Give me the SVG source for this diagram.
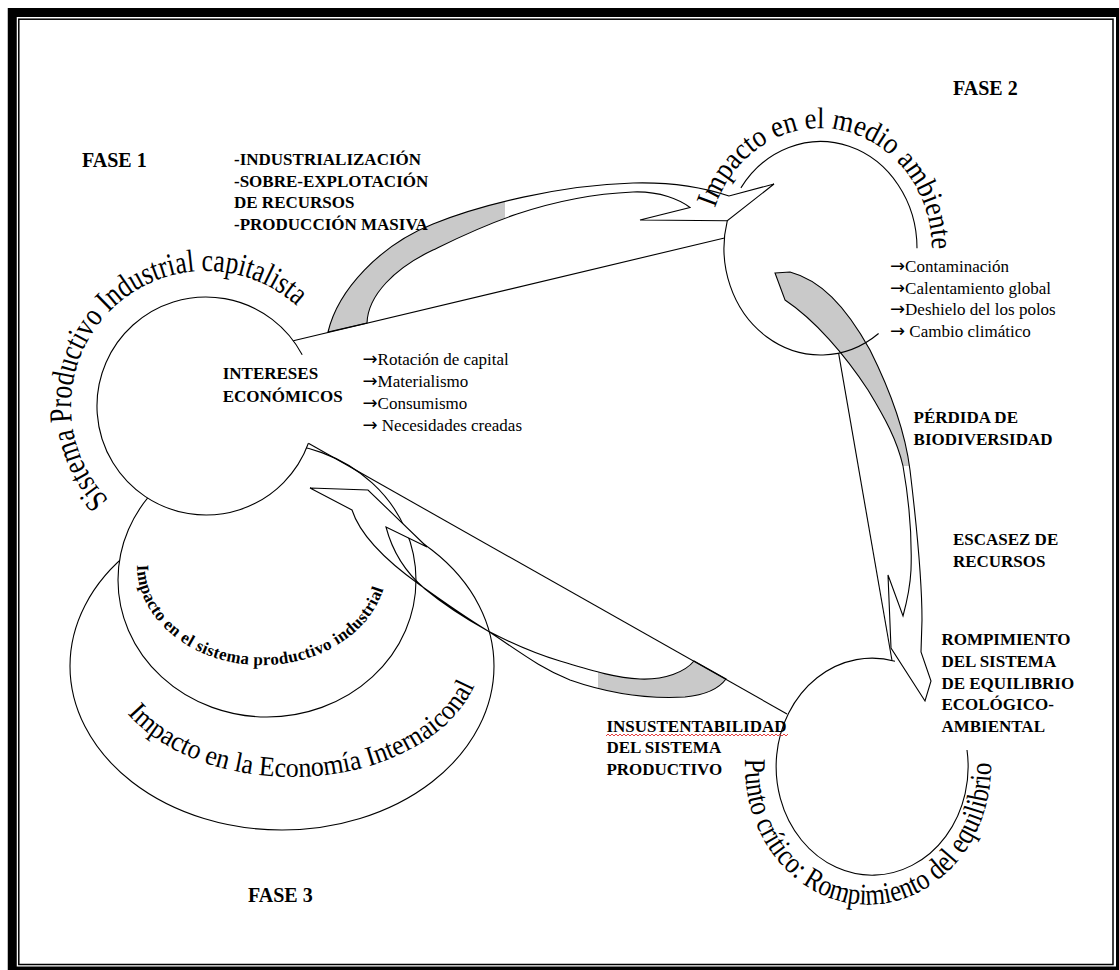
<svg xmlns="http://www.w3.org/2000/svg" width="1119" height="970" viewBox="0 0 1119 970">
  <defs>
    <style>
      .ln{fill:none;stroke:#000;stroke-width:1.1;stroke-linejoin:miter}
      .wf{fill:#fff;stroke:#000;stroke-width:1.1}
      .fillw{fill:#fff;stroke:none}
      .gray{fill:#c9c9c9;stroke:none}
      .t{font-family:'Liberation Serif','Times New Roman',serif;fill:#000}
      .b17{font-weight:bold;font-size:17px}
      .r17{font-size:17px}
      .fase{font-weight:bold;font-size:20px}
      .wa32{font-size:32px}
      .wa30{font-size:30px}
      .wa28{font-size:28px}
      .wab{font-weight:bold;font-size:17px}
      .arw{font-family:'DejaVu Sans',sans-serif;font-size:18px}
    </style>
    <!-- baselines for the arched titles -->
    <path id="arc-sistema" d="M108.9,499.8 A135,135 0 0 1 298.1,307.3"/>
    <path id="arc-medio" d="M714.8,208.3 A112,122 0 0 1 932,250"/>
    <path id="arc-prod" d="M137,565 A125,100 0 0 0 384.3,585.8"/>
    <path id="arc-econ" d="M127.5,713.5 A190,127 0 0 0 475.5,682.9"/>
    <path id="arc-punto" d="M745.2,758.8 A123,138 0 1 0 990.8,758.8"/>
    <!-- shaded (back) part of each ribbon arrow -->
    <clipPath id="clip-up"><rect x="0" y="0" width="505" height="970"/></clipPath>
    <clipPath id="clip-down"><rect x="0" y="0" width="1119" height="466"/></clipPath>
    <clipPath id="clip-low"><rect x="598" y="0" width="521" height="970"/></clipPath>
    <path id="arrow-up" d="M328,332 C338,290 380,245 433,224 C480,205 560,185 633,183 C670,182 705,188 729,196 L774,184 L727.3,220.7 L640,220 L690,207.5 C680,200 660,191 633,192 C540,196 470,232 433,250 C395,268 368,295 367,323 Z"/>
    <path id="arrow-down" d="M775,273 L790,272 C820,280 845,305 870,350 C890,390 905,430 910,470 C916,520 922,580 922,620 L921,652 L931,681 L925,701 L891,648 L888,575 L903,616 C906,605 910,590 911,570 C912,540 909,500 903,466 C897,440 885,418 868,390 C845,355 815,320 785,300 Z"/>
    <path id="arrow-low" d="M352,510 L310,488 L368,490 L427,547 L386,527 C392,550 405,572 425,589 C448,608 470,621 488,631 C515,645 540,655 560,661 C590,670 615,678 640,679 C665,680 685,672 694,661 L726,679 C718,690 705,695 685,697 C650,699 610,694 570,680 C540,668 520,652 488,631 C470,620 445,603 420,585 C385,560 360,535 352,510 Z"/>
    <pattern id="squiggle" x="606" y="733" width="4" height="4" patternUnits="userSpaceOnUse">
      <path d="M0,3 L2,1 L4,3" fill="none" stroke="#e01010" stroke-width="0.8"/>
    </pattern>
  </defs>

  <rect width="1119" height="970" fill="#fff"/>

  <!-- double page frame -->
  <g id="frame" fill="none" stroke="#000">
    <rect x="12.25" y="12.5" width="1108.25" height="958.5" stroke-width="9"/>
    <rect x="18.8" y="19.2" width="1094.2" height="945.3" stroke-width="1.5"/>
  </g>

  <!-- Fase 3: outer ring -->
  <g id="node-economia">
    <ellipse class="wf" cx="282" cy="666" rx="212" ry="164"/>
    <text class="t wa28"><textPath href="#arc-econ" textLength="396" lengthAdjust="spacingAndGlyphs">Impacto en la Economía Internaiconal</textPath></text>
  </g>

  <!-- Fase 3: inner ring -->
  <g id="node-sistema-productivo">
    <ellipse class="wf" cx="267" cy="580" rx="149" ry="137"/>
    <text class="t wab"><textPath href="#arc-prod" textLength="330" lengthAdjust="spacing">Impacto en el sistema productivo industrial</textPath></text>
  </g>

  <!-- Fase 1 -->
  <g id="node-sistema">
    <path class="wf" d="M302.2,354.8 A109,109 0 1 0 308.4,443.3"/>
    <text class="t wa32"><textPath href="#arc-sistema" textLength="415" lengthAdjust="spacingAndGlyphs">Sistema Productivo Industrial capitalista</textPath></text>
    <text class="t b17" x="222.7" y="379">INTERESES</text>
    <text class="t b17" x="222.7" y="401.7">ECONÓMICOS</text>
  </g>

  <g id="connectors">
    <!-- Fase 2 to critical point -->
    <use href="#arrow-down" class="fillw"/>
    <use href="#arrow-down" class="gray" clip-path="url(#clip-down)"/>
    <use href="#arrow-down" class="ln"/>
    <line class="ln" x1="838.6" y1="353.1" x2="892" y2="660.5"/>
    <!-- Fase 1 to Fase 2 -->
    <use href="#arrow-up" class="fillw"/>
    <use href="#arrow-up" class="gray" clip-path="url(#clip-up)"/>
    <use href="#arrow-up" class="ln"/>
    <line class="ln" x1="293.3" y1="340.7" x2="724.5" y2="238"/>
    <!-- critical point back to Fase 3 -->
    <use href="#arrow-low" class="fillw"/>
    <use href="#arrow-low" class="gray" clip-path="url(#clip-low)"/>
    <use href="#arrow-low" class="ln"/>
    <line class="ln" x1="308.4" y1="443.3" x2="787" y2="714"/>
  </g>

  <!-- Fase 2 -->
  <g id="node-medio-ambiente">
    <path class="ln" d="M917,248.3 A96.5,106.7 0 0 0 740.9,187.9"/>
    <path class="ln" d="M727.3,220.7 A96.5,106.7 0 0 0 878.6,333.5"/>
    <text class="t wa30"><textPath href="#arc-medio" textLength="324" lengthAdjust="spacingAndGlyphs">Impacto en el medio ambiente</textPath></text>
  </g>

  <!-- critical point -->
  <g id="node-punto-critico">
    <path class="ln" d="M895,661.3 A96,108.5 0 1 0 967,750"/>
    <text class="t wa30"><textPath href="#arc-punto" textLength="422" lengthAdjust="spacingAndGlyphs">Punto crítico: Rompimiento del equilibrio</textPath></text>
  </g>

  <g id="labels" class="t">
    <text class="fase" x="82" y="166.7">FASE 1</text>
    <text class="fase" x="953" y="95">FASE 2</text>
    <text class="fase" x="248" y="901.7">FASE 3</text>

    <g class="b17">
      <text x="234" y="165">-INDUSTRIALIZACIÓN</text>
      <text x="234" y="186.5">-SOBRE-EXPLOTACIÓN</text>
      <text x="234" y="208">DE RECURSOS</text>
      <text x="234" y="229.5">-PRODUCCIÓN  MASIVA</text>

      <text x="913.6" y="423.3">PÉRDIDA DE</text>
      <text x="913.6" y="445">BIODIVERSIDAD</text>

      <text x="952.9" y="545">ESCASEZ DE</text>
      <text x="952.9" y="566.7">RECURSOS</text>

      <text x="941.4" y="645">ROMPIMIENTO</text>
      <text x="941.4" y="667">DEL SISTEMA</text>
      <text x="941.4" y="688.5">DE EQUILIBRIO</text>
      <text x="941.4" y="710">ECOLÓGICO-</text>
      <text x="941.4" y="731.7">AMBIENTAL</text>

      <text x="606.4" y="731.7">INSUSTENTABILIDAD</text>
      <text x="606.4" y="753.3">DEL SISTEMA</text>
      <text x="606.4" y="775">PRODUCTIVO</text>
    </g>
    <rect x="606" y="733" width="182" height="4" fill="url(#squiggle)"/>

    <g class="r17">
      <text x="362.5" y="365"><tspan class="arw">→</tspan>Rotación de capital</text>
      <text x="362.5" y="387"><tspan class="arw">→</tspan>Materialismo</text>
      <text x="362.5" y="409"><tspan class="arw">→</tspan>Consumismo</text>
      <text x="362.5" y="431"><tspan class="arw">→</tspan> Necesidades creadas</text>

      <text x="890" y="272"><tspan class="arw">→</tspan>Contaminación</text>
      <text x="890" y="293.5"><tspan class="arw">→</tspan>Calentamiento global</text>
      <text x="890" y="315"><tspan class="arw">→</tspan>Deshielo del los polos</text>
      <text x="890" y="336.5"><tspan class="arw">→</tspan> Cambio climático</text>
    </g>
  </g>
</svg>
